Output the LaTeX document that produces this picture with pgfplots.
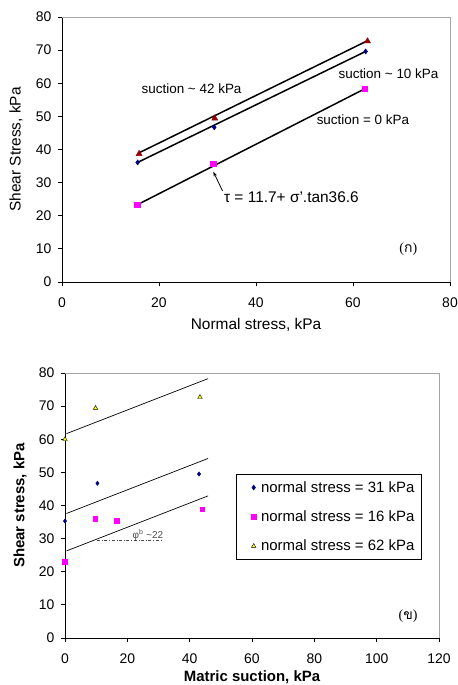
\documentclass[border=0pt]{standalone}
\usepackage{fontspec}
\setmainfont{Liberation Sans}
\newfontfamily\thaifont[Script=Thai]{Loma}
\newfontfamily\seriffont{Liberation Serif}
\usepackage{pgfplots}
\pgfplotsset{compat=1.18}
\usetikzlibrary{arrows.meta}

\definecolor{darkred}{RGB}{150,0,0}
\definecolor{navy}{RGB}{0,0,128}
\definecolor{mag}{RGB}{255,0,255}
\definecolor{yel}{RGB}{255,255,0}

\pgfplotsset{
  myaxis/.style={
    scale only axis, enlargelimits=false,
    axis x line*=bottom, axis y line*=left,
    axis line style={black, line width=0.8bp},
    tick align=outside, major tick length=4bp,
    tick style={black, line width=0.8bp},
    /pgf/number format/assume math mode=true,
    ticklabel style={font=\fontsize{14}{16}\selectfont},
    xticklabel style={yshift=-8bp},
    yticklabel style={xshift=-3bp},
    after end axis/.code={\draw[gray!70, line width=0.8bp] (rel axis cs:0,1) -- (rel axis cs:1,1) -- (rel axis cs:1,0);},
  }
}

\begin{document}
\begin{tikzpicture}
\useasboundingbox (0,0) rectangle (458bp,685bp);

% (a) shear stress vs normal stress
\begin{axis}[myaxis, at={(62bp,403bp)}, anchor=south west,
    width=388bp, height=265bp,
    xmin=0, xmax=80, ymin=0, ymax=80,
    xtick={0,20,...,80}, ytick={0,10,...,80},
    xlabel={Normal stress, kPa}, ylabel={Shear Stress, kPa},
    every axis x label/.style={at={([yshift=-43bp]axis description cs:0.5,0)}, anchor=center, font=\fontsize{15.5}{18}\selectfont},
    every axis y label/.style={at={([xshift=-46bp]axis description cs:0,0.5)}, rotate=90, anchor=center, font=\fontsize{15.5}{18}\selectfont},
]
\addplot[black, line width=1.5bp, no markers] coordinates {(15.9,39.0) (62.8,72.7)};
\addplot[black, line width=1.5bp, no markers] coordinates {(15.6,36.1) (62.6,69.6)};
\addplot[black, line width=1.5bp, no markers] coordinates {(15.5,23.3) (62.4,58.3)};
\addplot[only marks, mark=triangle*, mark size=3.5bp, darkred] coordinates {(15.9,38.7) (31.5,49.4) (63.0,72.7)};
\addplot[only marks, mark=diamond*, mark size=2.6bp, navy] coordinates {(15.6,36.1) (31.4,46.7) (62.6,69.6)};
\addplot[only marks, mark=square*, mark size=2.8bp, mag] coordinates {(15.5,23.3) (31.2,35.7) (62.4,58.3)};

\node[anchor=west, font=\fontsize{13.5}{16}\selectfont] at (axis cs:15.7,58.5) {suction \textasciitilde{} 42 kPa};
\node[anchor=west, font=\fontsize{13.5}{16}\selectfont] at (axis cs:56.3,63.0) {suction \textasciitilde{} 10 kPa};
\node[anchor=west, font=\fontsize{13.5}{16}\selectfont] at (axis cs:51.8,49.1) {suction = 0 kPa};
\node[anchor=west, font=\fontsize{15.5}{18}\selectfont] at (axis cs:32.7,25.5) {τ = 11.7+ σ'.tan36.6};
\draw[-{Stealth[length=5bp,width=3.5bp]}, line width=0.8bp] (axis cs:33.1,27.5) -- (axis cs:31.2,33.3);
\node[font=\fontsize{14}{16}\selectfont] at (axis cs:71.4,9.8) {\seriffont(\thaifont ก\seriffont)};
\end{axis}

% (b) shear stress vs matric suction
\begin{axis}[myaxis, at={(65bp,47bp)}, anchor=south west,
    width=374bp, height=265bp,
    xmin=0, xmax=120, ymin=0, ymax=80,
    xtick={0,20,...,120}, ytick={0,10,...,80},
    xlabel={Matric suction, kPa}, ylabel={Shear stress, kPa},
    every axis x label/.style={at={([yshift=-39bp]axis description cs:0.5,0)}, anchor=center, font=\fontsize{15}{18}\selectfont\bfseries},
    every axis y label/.style={at={([xshift=-45bp]axis description cs:0,0.5)}, rotate=90, anchor=center, font=\fontsize{15}{18}\selectfont\bfseries},
    legend style={at={(rel axis cs:0.457,0.619)}, anchor=north west, draw=black, line width=0.8bp,
      font=\fontsize{15}{18}\selectfont, row sep=13bp, inner xsep=5bp, inner ysep=5bp},
    legend cell align=left,
    legend image code/.code={\path (0bp,0bp) (17bp,0bp); \draw[#1] plot coordinates {(12bp,0bp)};},
]
\addplot[black, line width=0.7bp, no markers, forget plot] coordinates {(0.5,61.7) (45.9,78.3)};
\addplot[black, line width=0.7bp, no markers, forget plot] coordinates {(0.5,37.6) (45.9,54.2)};
\addplot[black, line width=0.7bp, no markers, forget plot] coordinates {(0.5,26.3) (45.9,42.9)};
\addplot[gray!60!black, dash dot, line width=0.7bp, no markers, forget plot] coordinates {(10.2,29.4) (31.0,29.4)};
\addplot[only marks, mark=diamond*, mark size=2.2bp, navy] coordinates {(0,35.3) (10.4,46.7) (43.0,49.5)};
\addlegendentry{normal stress = 31 kPa}
\addplot[only marks, mark=square*, mark size=2.4bp, mag] coordinates {(0,23.1) (9.7,36.1) (16.6,35.4) (44.0,38.9)};
\addlegendentry{normal stress = 16 kPa}
\addplot[only marks, mark=triangle*, mark size=2.6bp, draw=black, fill=yel, line width=0.4bp] coordinates {(0,60.0) (9.8,69.4) (43.3,72.7)};
\addlegendentry{normal stress = 62 kPa}

\node[anchor=base west, text=gray!60!black, font=\fontsize{10}{12}\selectfont] at (axis cs:20.6,30.1) {φ\textsuperscript{b} \textasciitilde22};
\node[font=\fontsize{14}{16}\selectfont] at (axis cs:110.1,6.5) {\seriffont(\thaifont ข\seriffont)};
\end{axis}
\end{tikzpicture}
\end{document}
